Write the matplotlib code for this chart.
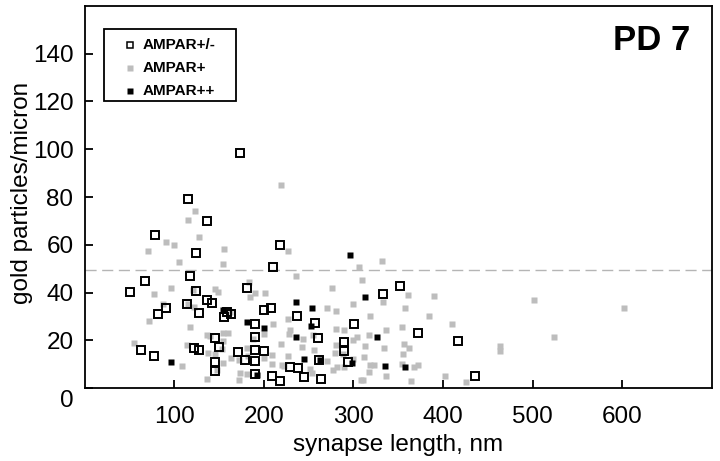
import matplotlib
matplotlib.use("Agg")
import matplotlib.pyplot as plt
from matplotlib import font_manager
from matplotlib.patches import Rectangle
import matplotlib.transforms as mtransforms

# ---------------- data ----------------
# AMPAR+/-  (open squares): synapse length (nm), gold particles/micron
pm_x = [173, 115, 136.5, 78.5, 124.5, 218, 210, 118, 67.5, 51, 124.5, 181.5,
        136.5, 142.6, 114.5, 90.6, 81.5, 127.5, 158.7, 163, 155.5, 200.7, 208.5,
        237, 190, 257, 300.5, 333, 351.5, 372.5, 417, 436, 146, 190, 260, 290,
        290, 63.5, 77.8, 122, 128, 149.5, 171.7, 179, 190, 200.7, 146, 146, 190,
        190, 209, 218, 229.5, 238.6, 245.3, 262, 264, 294]
pm_y = [98.5, 79.1, 70.1, 64.1, 56.5, 59.7, 50.5, 46.8, 44.7, 40.3, 40.7, 41.7,
        36.8, 35.4, 35.1, 33.3, 30.9, 31.6, 31.9, 31.0, 29.7, 32.6, 33.7,
        30.1, 26.6, 27.3, 26.8, 39.2, 42.7, 22.9, 19.5, 5.0, 20.8, 21.3, 21.1, 19.3,
        15.7, 16.1, 13.3, 16.8, 16.1, 17.1, 15.1, 11.9, 16.1, 15.5, 10.8, 7.2, 11.2,
        5.7, 5.0, 2.8, 8.8, 8.4, 4.4, 11.9, 3.9, 10.8]

# AMPAR+ (grey squares)
p_x = [219, 123, 115, 128, 91, 100, 71, 156, 227, 105, 155, 306, 332, 236, 310,
       183, 276, 97, 78, 146, 149, 121.5, 190, 185, 201, 88, 115, 122, 162, 300,
       333, 361, 390, 358, 270, 280, 72, 118, 137, 140, 154, 154, 227, 210, 229,
       228, 200, 188, 244, 255, 280, 290, 318, 384, 410, 354, 336, 317, 304, 300,
       356.6, 362.5, 313, 334, 355, 312, 299, 463, 464, 524, 501, 602, 318, 323,
       354, 372.5, 368, 317.5, 336, 309, 364, 402, 426, 55, 109, 114, 137, 137.5,
       145.6, 153, 163.5, 154, 148, 172, 181, 182, 173.5, 181, 172.4, 200.7, 209,
       209.6, 219, 227, 220, 222, 243, 256.5, 281, 279, 270, 252, 253.6, 281.5,
       277.7, 290, 288, 311, 159.7]
p_y = [85, 74, 70.3, 63.1, 61.2, 60.1, 57.4, 58.2, 57.5, 52.6, 52.1, 50.8, 53, 46.8,
       45.4, 44.4, 42, 42, 39.2, 41.4, 40.3, 41, 39.7, 38.2, 39.8, 35, 35.3, 34,
       31.8, 35.3, 36, 38.9, 38.4, 33.7, 33.5, 32.3, 28, 25.6, 22.4, 21.7, 23.1,
       19.7, 28.7, 26.6, 24.2, 22.5, 22.8, 20.7, 20.7, 22.1, 24.9, 24.5, 30.1, 30.1,
       26.8, 25.5, 24.1, 22.2, 21.4, 20.3, 18.4, 16.8, 17.6, 16.6, 14.3, 13, 12,
       17.6, 15.3, 21.3, 37, 33.3, 9.6, 9.5, 10.2, 9.8, 8.7, 6.5, 4.9, 3.4, 3.1,
       5.2, 2.5, 18.7, 9.2, 17.9, 3.9, 14.8, 14.4, 16.2, 12.7, 10.6, 7.4, 11.6,
       16.9, 13.3, 6.3, 5.7, 3.2, 12.7, 9.9, 13.7, 18.6, 13.3, 9.5, 9.2, 17.2,
       15.8, 17.9, 14.7, 11.3, 8.1, 6.3, 8.8, 7.4, 8.8, 14.1, 3.5, 23.2]

# AMPAR++ (black squares)
pp_x = [96, 154, 181.7, 200.3, 192, 236, 254, 253, 236, 245, 263, 296, 298,
        312.7, 326.8, 335.4, 357]
pp_y = [10.8, 32.6, 27.7, 25.2, 5.5, 36.1, 33.7, 25.9, 21.4, 12.3, 11.6, 55.9,
        10.3, 38.3, 21.5, 9.1, 8.7]

threshold = 49.3
x_ticks = [100, 200, 300, 400, 500, 600]
y_ticks = [0, 20, 40, 60, 80, 100, 120, 140]
legend_labels = ["AMPAR+/-", "AMPAR+", "AMPAR++"]
panel_title = "PD 7"
x_label = "synapse length, nm"
y_label = "gold particles/micron"

# ---------------- fonts ----------------
names = {f.name for f in font_manager.fontManager.ttflist}
base = "Liberation Sans" if "Liberation Sans" in names else "DejaVu Sans"
plt.rcParams["font.family"] = [base, "DejaVu Sans"]

GREY = "#bdbdbd"
W, H = 720, 461
AX_L, AX_R, AX_T, AX_B = 84.5, 712, 6, 388


def fx(px):
    return (px - AX_L) / (AX_R - AX_L)


def fy(py):
    return (AX_B - py) / (AX_B - AX_T)


fig = plt.figure(figsize=(W / 100, H / 100), dpi=100)
ax = fig.add_axes([AX_L / W, (H - AX_B) / H, (AX_R - AX_L) / W, (AX_B - AX_T) / H])

OPEN = dict(ls="none", marker="s", ms=5.4, mfc="none", mec="black", mew=1.4)
GRY = dict(ls="none", marker="s", ms=4.5, mfc=GREY, mec="none")
BLK = dict(ls="none", marker="s", ms=4.0, mfc="black", mec="none")

ax.plot(p_x, p_y, zorder=2, **GRY)
ax.plot(pp_x, pp_y, zorder=3, **BLK)
ax.plot(pm_x, pm_y, zorder=4, **OPEN)

ax.axhline(threshold, color="#b5b5b5", lw=1.0, dashes=(8, 4), zorder=1)

ax.set_xlim(0, 700)
ax.set_ylim(0, 160)
ax.set_xticks(x_ticks)
ax.set_yticks(y_ticks)
ax.tick_params(direction="in", length=6, width=1.3, labelsize=17.5)
ax.tick_params(axis="y", pad=8)
ax.tick_params(axis="x", pad=13)

# the "0" label sits a little below the axis in the reference
offset = mtransforms.ScaledTranslation(0, -10 / 100, fig.dpi_scale_trans)
ylabels = ax.get_yticklabels()
ylabels[0].set_transform(ylabels[0].get_transform() + offset)

for sp in ax.spines.values():
    sp.set_linewidth(1.3)

ax.set_xlabel(x_label, fontsize=17.5)
ax.xaxis.set_label_coords(0.5, fy(434))
ax.set_ylabel(y_label, fontsize=17.5)
ax.yaxis.set_label_coords(fx(33), 0.51)

ax.text(fx(690), fy(40.5), panel_title, transform=ax.transAxes, ha="right",
        va="center", fontsize=25, fontweight="bold")

# legend box (drawn manually to match the reference layout)
ax.add_patch(Rectangle((fx(104), fy(101)), fx(236) - fx(104), fy(29) - fy(101),
                       transform=ax.transAxes, fill=False, edgecolor="black",
                       lw=1.3, zorder=5))
rows = [45, 68, 91]
styles = [OPEN, GRY, BLK]
for ry, st, lab in zip(rows, styles, legend_labels):
    st2 = dict(st)
    if st2.get("mew"):
        st2["mew"] = 1.1
        st2["ms"] = 5.0
    ax.plot([fx(130)], [fy(ry)], transform=ax.transAxes, clip_on=False,
            zorder=6, **st2)
    ax.text(fx(143), fy(ry), lab, transform=ax.transAxes, ha="left",
            va="center", fontsize=11, fontweight="bold", zorder=6)

fig.savefig("out.png", dpi=100)
